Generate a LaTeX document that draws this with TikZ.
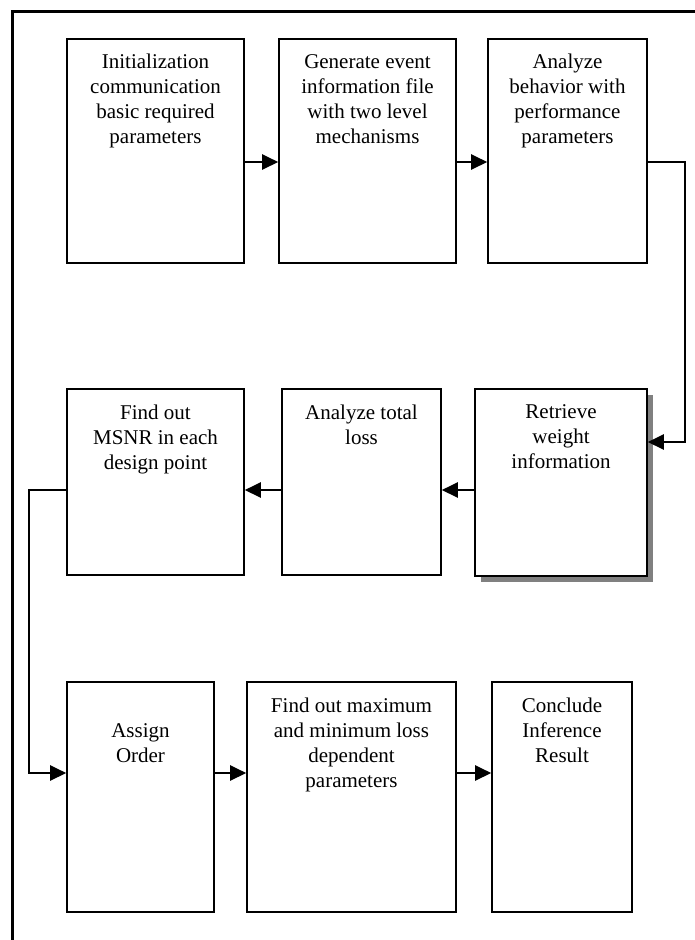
\documentclass[tikz,border=0pt]{standalone}
\usepackage{fontspec}
\setmainfont{Liberation Serif}
\usetikzlibrary{arrows.meta,fit,shadows}
\newcommand\mlines[1]{\begin{tabular}[t]{@{}c@{}}#1\end{tabular}}
\begin{document}
\begin{tikzpicture}[x=0.75pt,y=-0.75pt,
  box/.style={draw=black,line width=1.3pt,fill=white,inner sep=0pt},
  shbox/.style={box,drop shadow={shadow xshift=4.5pt,shadow yshift=-4.5pt,opacity=1,fill=black!50}},
  txt/.style={anchor=base,inner sep=0pt,font=\fontsize{15.75}{18.75}\selectfont},
  arr/.style={line width=1.1pt,-{Triangle[length=12pt,width=11.5pt]}},
  frame/.style={line width=2.3pt}]
\useasboundingbox (0,0) rectangle (695,940);
\draw[frame] (695,11.5) -- (12.5,11.5) -- (12.5,940);

% row 1
\node[box,fit={(67,39)(244,263)}] (b1) {};
\node[box,fit={(279,39)(456,263)}] (b2) {};
\node[box,fit={(488,39)(647,263)}] (b3) {};
% row 2
\node[shbox,fit={(475,389)(647,576)}] (b4) {};
\node[box,fit={(282,389)(441,575)}] (b5) {};
\node[box,fit={(67,389)(244,575)}] (b6) {};
% row 3
\node[box,fit={(67,682)(214,912)}] (b7) {};
\node[box,fit={(247,682)(456,912)}] (b8) {};
\node[box,fit={(492,682)(632,912)}] (b9) {};

% texts
\node[txt] (t1) at (155.5,68) {\mlines{Initialization\\communication\\basic required\\parameters}};
\node[txt] (t2) at (367.5,68) {\mlines{Generate event\\information file\\with two level\\mechanisms}};
\node[txt] (t3) at (567.5,68) {\mlines{Analyze\\behavior with\\performance\\parameters}};
\node[txt] (t4) at (561,418) {\mlines{Retrieve\\weight\\information}};
\node[txt] (t5) at (361.5,419) {\mlines{Analyze total\\loss}};
\node[txt] (t6) at (155.5,419) {\mlines{Find out\\MSNR in each\\design point}};
\node[txt] (t7) at (140.5,737) {\mlines{Assign\\Order}};
\node[txt] (t8) at (351.5,712) {\mlines{Find out maximum\\and minimum loss\\dependent\\parameters}};
\node[txt] (t9) at (562,712) {\mlines{Conclude\\Inference\\Result}};

% connector rows
\coordinate (r1) at (0,162);
\coordinate (r2) at (0,490);
\coordinate (r3) at (0,773);
\coordinate (c1) at (685,162);
\coordinate (c2) at (685,442);
\coordinate (c3) at (29,490);
\coordinate (c4) at (29,773);

\draw[arr] (b1.east |- r1) -- (b2.west |- r1);
\draw[arr] (b2.east |- r1) -- (b3.west |- r1);
\draw[arr] (b3.east |- c1) -- (c1) -- (c2) -- (b4.east |- c2);
\draw[arr] (b4.west |- r2) -- (b5.east |- r2);
\draw[arr] (b5.west |- r2) -- (b6.east |- r2);
\draw[arr] (b6.west |- c3) -- (c3) -- (c4) -- (b7.west |- c4);
\draw[arr] (b7.east |- r3) -- (b8.west |- r3);
\draw[arr] (b8.east |- r3) -- (b9.west |- r3);
\end{tikzpicture}
\end{document}
